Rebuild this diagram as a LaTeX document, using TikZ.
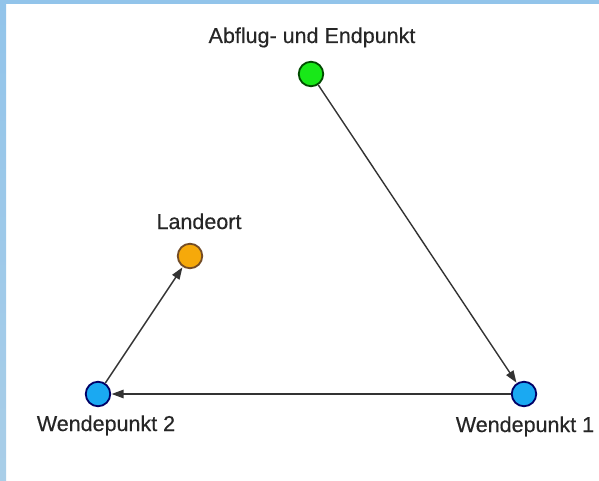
\documentclass[tikz,border=0pt]{standalone}
\usepackage{fontspec}
\setmainfont{Liberation Sans}
\newfontfamily\lblfont{Liberation Sans}[FakeBold=0.4]
\usetikzlibrary{arrows.meta}
\definecolor{frameblue}{HTML}{92C4EA}
\definecolor{frameblue2}{HTML}{A9CEE8}
\definecolor{pgreen}{HTML}{18E818}
\definecolor{porange}{HTML}{F6A90A}
\definecolor{pblue}{HTML}{1AA9F2}
\tikzset{
  pt/.style={circle, minimum size=24.5pt, inner sep=0pt, line width=1.8pt},
  lbl/.style={font=\lblfont\fontsize{21.5}{24}\selectfont, text=black!85, inner sep=0pt, anchor=base},
  conn/.style={line width=1.4pt, black!80, -{Triangle[length=12pt,width=8.5pt]}, shorten >=0.5pt}
}
\begin{document}
\begin{tikzpicture}[x=1pt,y=-1pt]
\useasboundingbox (0,0) rectangle (599,481);
\fill[white] (0,0) rectangle (599,481);
\shade[top color=frameblue, bottom color=frameblue2] (0,0) rectangle (6,481);
\fill[frameblue] (0,0) rectangle (599,4);
\node[pt, fill=pgreen, draw=green!30!black] (g) at (311,74) {};
\node[pt, fill=porange, draw=brown!60!black] (l) at (190,256) {};
\node[pt, fill=pblue, draw=blue!40!black] (w2) at (98,394) {};
\node[pt, fill=pblue, draw=blue!40!black] (w1) at (524,394) {};
\node[lbl] (tg) at (312,43) {Abflug- und Endpunkt};
\node[lbl] (tl) at (199,229) {Landeort};
\node[lbl] (tw2) at (106,431) {Wendepunkt 2};
\node[lbl] (tw1) at (525,432) {Wendepunkt 1};
\draw[conn] (g) -- (w1);
\draw[conn] (w1) -- (w2);
\draw[conn] (w2) -- (l);
\end{tikzpicture}
\end{document}
